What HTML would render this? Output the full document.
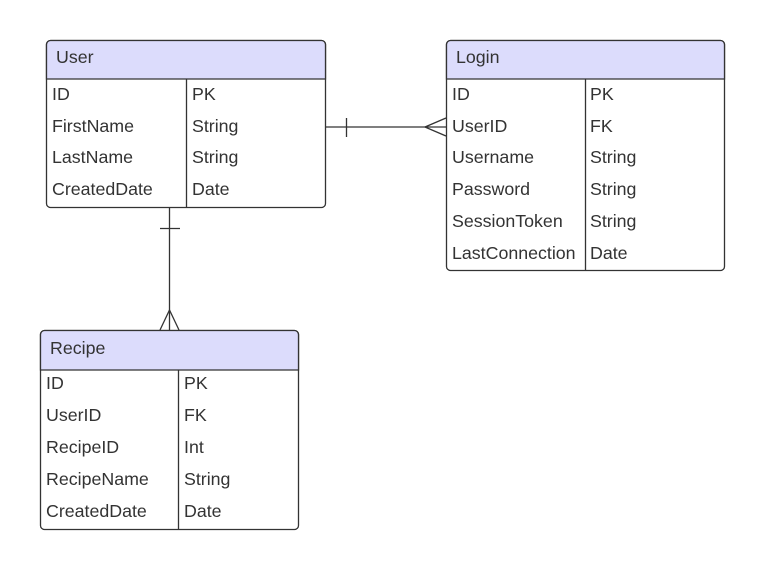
<!DOCTYPE html>
<html><head><meta charset="utf-8"><style>
html,body{margin:0;padding:0;background:#fff;}
svg{display:block;}
text{font-family:"Liberation Sans",sans-serif;font-size:17.8px;fill:#333;}
</style></head><body>
<svg width="766" height="570" viewBox="0 0 766 570">
<g stroke="#333" stroke-width="1.3" fill="none">
<line x1="326" y1="127" x2="446" y2="127"/>
<line x1="346.5" y1="118" x2="346.5" y2="137"/>
<line x1="425" y1="127" x2="446" y2="118"/>
<line x1="425" y1="127" x2="446" y2="136"/>
<line x1="169.5" y1="207" x2="169.5" y2="330"/>
<line x1="160" y1="228.5" x2="180" y2="228.5"/>
<line x1="169.5" y1="310" x2="160" y2="330"/>
<line x1="169.5" y1="310" x2="179" y2="330"/>
</g>
<g>
<rect x="46.5" y="40.5" width="279" height="167" rx="4" fill="#fff" stroke="#333" stroke-width="1.3"/>
<path d="M46.5 79 V44.5 a4 4 0 0 1 4 -4 H321.5 a4 4 0 0 1 4 4 V79 Z" fill="#dcdcfc" stroke="#333" stroke-width="1.3"/>
<line x1="186.5" y1="79" x2="186.5" y2="207" stroke="#333" stroke-width="1.3"/>
<text x="56" y="63">User</text>
<text x="52" y="100">ID</text><text x="192" y="100">PK</text>
<text x="52" y="132">FirstName</text><text x="192" y="132">String</text>
<text x="52" y="163">LastName</text><text x="192" y="163">String</text>
<text x="52" y="195">CreatedDate</text><text x="192" y="195">Date</text>
</g>
<g>
<rect x="446.5" y="40.5" width="278" height="230" rx="4" fill="#fff" stroke="#333" stroke-width="1.3"/>
<path d="M446.5 79 V44.5 a4 4 0 0 1 4 -4 H720.5 a4 4 0 0 1 4 4 V79 Z" fill="#dcdcfc" stroke="#333" stroke-width="1.3"/>
<line x1="585.5" y1="79" x2="585.5" y2="270" stroke="#333" stroke-width="1.3"/>
<text x="456" y="63">Login</text>
<text x="452" y="100">ID</text><text x="590" y="100">PK</text>
<text x="452" y="132">UserID</text><text x="590" y="132">FK</text>
<text x="452" y="163">Username</text><text x="590" y="163">String</text>
<text x="452" y="195">Password</text><text x="590" y="195">String</text>
<text x="452" y="227">SessionToken</text><text x="590" y="227">String</text>
<text x="452" y="259">LastConnection</text><text x="590" y="259">Date</text>
</g>
<g>
<rect x="40.5" y="330.5" width="258" height="199" rx="4" fill="#fff" stroke="#333" stroke-width="1.3"/>
<path d="M40.5 370 V334.5 a4 4 0 0 1 4 -4 H294.5 a4 4 0 0 1 4 4 V370 Z" fill="#dcdcfc" stroke="#333" stroke-width="1.3"/>
<line x1="178.5" y1="370" x2="178.5" y2="529" stroke="#333" stroke-width="1.3"/>
<text x="50" y="354">Recipe</text>
<text x="46" y="389">ID</text><text x="184" y="389">PK</text>
<text x="46" y="421">UserID</text><text x="184" y="421">FK</text>
<text x="46" y="453">RecipeID</text><text x="184" y="453">Int</text>
<text x="46" y="485">RecipeName</text><text x="184" y="485">String</text>
<text x="46" y="517">CreatedDate</text><text x="184" y="517">Date</text>
</g>
</svg>
</body></html>
